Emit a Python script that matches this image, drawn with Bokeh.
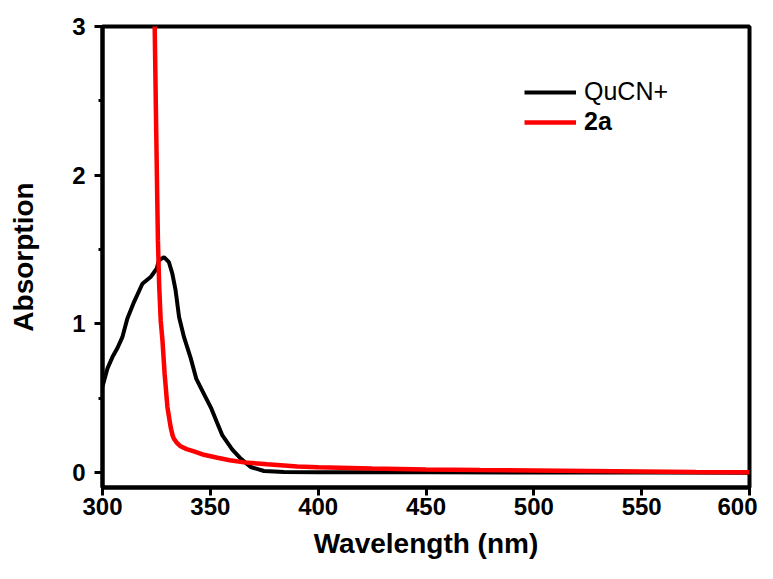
from bokeh.plotting import figure
from bokeh.models import Range1d, FixedTicker, Legend, LegendItem
from bokeh.embed import file_html
from bokeh.resources import INLINE

# QuCN+ absorption spectrum
qucn_x = [300, 302.3, 304.6, 307, 309.2, 311.5, 314.6, 318.5, 322.3, 325.1, 326.2,
          328.5, 330.8, 332.4, 333.9, 335.5, 337.8, 340.9, 343.5, 347, 350.5, 353,
          355.6, 360.2, 364.1, 368.7, 374.9, 384.1, 400, 450, 500, 550, 600]
qucn_y = [0.58, 0.70, 0.777, 0.84, 0.911, 1.035, 1.147, 1.27, 1.315, 1.371, 1.427,
          1.449, 1.415, 1.337, 1.225, 1.046, 0.911, 0.77, 0.63, 0.53, 0.43, 0.34,
          0.25, 0.155, 0.094, 0.038, 0.011, 0.004, 0.003, 0.002, 0.001, 0.001, 0.0]

# 2a absorption spectrum
a2_x = [324.0, 324.2, 324.8, 325.4, 325.7, 326.3, 327.0, 327.8, 328.8, 330.1, 331.6,
        332.5, 333.1, 334.5, 336.2, 339, 342.4, 347, 353.3, 359, 365.6, 376.4, 390.3,
        400, 425, 450, 475, 500, 525, 550, 575, 600]
a2_y = [3.2, 3.0, 2.4, 1.83, 1.56, 1.25, 1.02, 0.89, 0.665, 0.441, 0.306,
        0.25, 0.228, 0.20, 0.177, 0.158, 0.143, 0.12, 0.10, 0.083, 0.069, 0.056, 0.042,
        0.036, 0.027, 0.021, 0.017, 0.014, 0.011, 0.008, 0.005, 0.003]

x_ticks = [300, 350, 400, 450, 500, 550, 600]
y_ticks = [0, 1, 2, 3]
y_minor = [0.5, 1.5, 2.5]

FONT = "Liberation Sans"

p = figure(width=757, height=563, output_backend="svg", toolbar_location=None,
           x_range=Range1d(300, 600), y_range=Range1d(-0.1, 3.0),
           min_border_left=102, min_border_right=8, min_border_top=26,
           min_border_bottom=76)

p.background_fill_color = "white"
p.border_fill_color = "white"
p.xgrid.visible = False
p.ygrid.visible = False
p.outline_line_color = "black"
p.outline_line_width = 4
p.outline_line_alpha = 1.0

r1 = p.line(qucn_x, qucn_y, line_color="black", line_width=4)
r2 = p.line(a2_x, a2_y, line_color="#ff0000", line_width=4.5)

p.xaxis.ticker = FixedTicker(ticks=x_ticks)
p.yaxis.ticker = FixedTicker(ticks=y_ticks, minor_ticks=y_minor)

for ax in (p.xaxis[0], p.yaxis[0]):
    ax.axis_line_width = 4
    ax.axis_line_color = "black"
    ax.major_tick_line_width = 3
    ax.major_tick_line_color = "black"
    ax.major_tick_in = 0
    ax.major_tick_out = 8
    ax.minor_tick_line_width = 3
    ax.minor_tick_line_color = "black"
    ax.minor_tick_in = 0
    ax.minor_tick_out = 4
    ax.major_label_text_font = FONT
    ax.major_label_text_font_size = "24px"
    ax.major_label_text_font_style = "bold"
    ax.major_label_text_color = "black"
    ax.axis_label_text_font = FONT
    ax.axis_label_text_font_size = "28px"
    ax.axis_label_text_font_style = "bold"
    ax.axis_label_text_color = "black"

p.xaxis.minor_tick_line_color = None
p.xaxis.axis_label = "Wavelength (nm)"
p.yaxis.axis_label = "Absorption"
p.xaxis.major_label_standoff = 2
p.xaxis.axis_label_standoff = 10
p.yaxis.major_label_standoff = 9
p.yaxis.axis_label_standoff = 30

def make_legend(label, rend, loc, style):
    return Legend(items=[LegendItem(label=label, renderers=[rend])],
                  location=loc, border_line_color=None, background_fill_alpha=0,
                  padding=0, margin=0, spacing=0, glyph_width=52, glyph_height=26,
                  label_height=26, label_standoff=8, label_text_font=FONT,
                  label_text_font_size="25px", label_text_font_style=style,
                  label_text_color="black")

p.add_layout(make_legend("QuCN+", r1, (422, 381), "normal"))
p.add_layout(make_legend("2a", r2, (422, 351), "bold"))

open("out.html", "w").write(file_html(p, INLINE))
